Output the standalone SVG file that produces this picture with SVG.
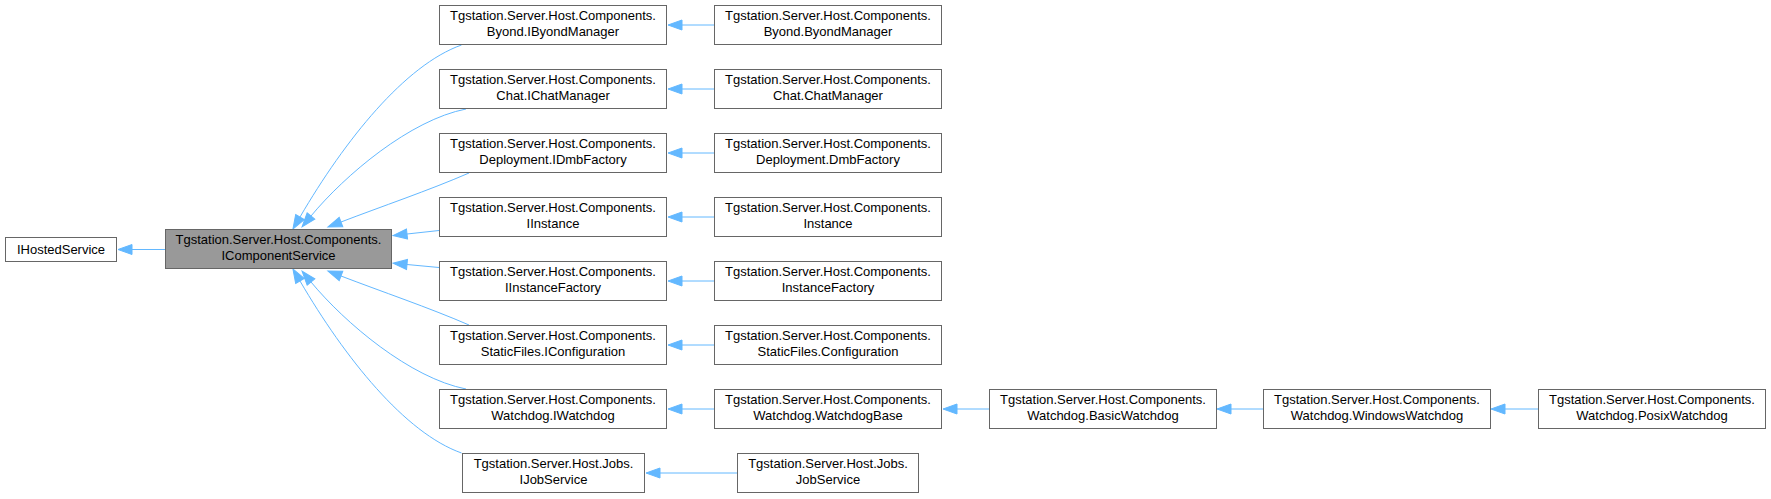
<svg xmlns="http://www.w3.org/2000/svg" width="1771" height="499" viewBox="0 0 1771 499">
<style>
.n rect{fill:#ffffff;stroke:#666666;stroke-width:1}
.hl rect{fill:#999999}
text{font-family:"Liberation Sans",Arial,Helvetica,sans-serif;font-size:13px;text-anchor:middle;fill:#000000}
.e path{fill:none;stroke:#63b8ff;stroke-width:1;marker-end:url(#ah)}
</style>
<defs>
<marker id="ah" markerUnits="userSpaceOnUse" viewBox="0 -6 16 12" refX="0" refY="0" markerWidth="16" markerHeight="12" orient="auto" overflow="visible">
<polygon points="0,-5 14,0 0,5" fill="#63b8ff" stroke="#63b8ff" stroke-width="1"/>
</marker>
</defs>
<rect width="1771" height="499" fill="#ffffff"/>
<g class="e" id="connectors">
<path d="M165,249.5 L132,249.5"/>
<path d="M461.5,45 C405,65 345,140 300,217"/>
<path d="M466,109 C410,120 345,175 311,216"/>
<path d="M469,173 C430,190 380,207 341,222"/>
<path d="M439,230.5 L407,234"/>
<path d="M439,267.5 L407,264.5"/>
<path d="M469,325 C430,308 380,291 341,276"/>
<path d="M466,389 C410,378 345,323 311,282"/>
<path d="M461.5,453 C405,433 345,358 300,281"/>
<path d="M714,25 L682,25"/>
<path d="M714,89 L682,89"/>
<path d="M714,153 L682,153"/>
<path d="M714,217 L682,217"/>
<path d="M714,281 L682,281"/>
<path d="M714,345 L682,345"/>
<path d="M714,409 L682,409"/>
<path d="M737,473 L660,473"/>
<path d="M989,409 L957,409"/>
<path d="M1263,409 L1231,409"/>
<path d="M1538,409 L1505,409"/>
</g>
<g class="n" id="IHostedService"><rect x="5.5" y="237.5" width="111" height="24"/><text x="61" y="253.5">IHostedService</text></g>
<g class="n hl" id="IComponentService"><rect x="165.5" y="229.5" width="226" height="39"/><text x="278.5" y="244">Tgstation.Server.Host.Components.</text><text x="278.5" y="260">IComponentService</text></g>
<g class="n" id="IByondManager"><rect x="439.5" y="5.5" width="227" height="39"/><text x="553" y="20">Tgstation.Server.Host.Components.</text><text x="553" y="36">Byond.IByondManager</text></g>
<g class="n" id="IChatManager"><rect x="439.5" y="69.5" width="227" height="39"/><text x="553" y="84">Tgstation.Server.Host.Components.</text><text x="553" y="100">Chat.IChatManager</text></g>
<g class="n" id="IDmbFactory"><rect x="439.5" y="133.5" width="227" height="39"/><text x="553" y="148">Tgstation.Server.Host.Components.</text><text x="553" y="164">Deployment.IDmbFactory</text></g>
<g class="n" id="IInstance"><rect x="439.5" y="197.5" width="227" height="39"/><text x="553" y="212">Tgstation.Server.Host.Components.</text><text x="553" y="228">IInstance</text></g>
<g class="n" id="IInstanceFactory"><rect x="439.5" y="261.5" width="227" height="39"/><text x="553" y="276">Tgstation.Server.Host.Components.</text><text x="553" y="292">IInstanceFactory</text></g>
<g class="n" id="IConfiguration"><rect x="439.5" y="325.5" width="227" height="39"/><text x="553" y="340">Tgstation.Server.Host.Components.</text><text x="553" y="356">StaticFiles.IConfiguration</text></g>
<g class="n" id="IWatchdog"><rect x="439.5" y="389.5" width="227" height="39"/><text x="553" y="404">Tgstation.Server.Host.Components.</text><text x="553" y="420">Watchdog.IWatchdog</text></g>
<g class="n" id="IJobService"><rect x="462.5" y="453.5" width="182" height="39"/><text x="553.5" y="468">Tgstation.Server.Host.Jobs.</text><text x="553.5" y="484">IJobService</text></g>
<g class="n" id="ByondManager"><rect x="714.5" y="5.5" width="227" height="39"/><text x="828" y="20">Tgstation.Server.Host.Components.</text><text x="828" y="36">Byond.ByondManager</text></g>
<g class="n" id="ChatManager"><rect x="714.5" y="69.5" width="227" height="39"/><text x="828" y="84">Tgstation.Server.Host.Components.</text><text x="828" y="100">Chat.ChatManager</text></g>
<g class="n" id="DmbFactory"><rect x="714.5" y="133.5" width="227" height="39"/><text x="828" y="148">Tgstation.Server.Host.Components.</text><text x="828" y="164">Deployment.DmbFactory</text></g>
<g class="n" id="Instance"><rect x="714.5" y="197.5" width="227" height="39"/><text x="828" y="212">Tgstation.Server.Host.Components.</text><text x="828" y="228">Instance</text></g>
<g class="n" id="InstanceFactory"><rect x="714.5" y="261.5" width="227" height="39"/><text x="828" y="276">Tgstation.Server.Host.Components.</text><text x="828" y="292">InstanceFactory</text></g>
<g class="n" id="Configuration"><rect x="714.5" y="325.5" width="227" height="39"/><text x="828" y="340">Tgstation.Server.Host.Components.</text><text x="828" y="356">StaticFiles.Configuration</text></g>
<g class="n" id="WatchdogBase"><rect x="714.5" y="389.5" width="227" height="39"/><text x="828" y="404">Tgstation.Server.Host.Components.</text><text x="828" y="420">Watchdog.WatchdogBase</text></g>
<g class="n" id="JobService"><rect x="737.5" y="453.5" width="181" height="39"/><text x="828" y="468">Tgstation.Server.Host.Jobs.</text><text x="828" y="484">JobService</text></g>
<g class="n" id="BasicWatchdog"><rect x="989.5" y="389.5" width="227" height="39"/><text x="1103" y="404">Tgstation.Server.Host.Components.</text><text x="1103" y="420">Watchdog.BasicWatchdog</text></g>
<g class="n" id="WindowsWatchdog"><rect x="1263.5" y="389.5" width="227" height="39"/><text x="1377" y="404">Tgstation.Server.Host.Components.</text><text x="1377" y="420">Watchdog.WindowsWatchdog</text></g>
<g class="n" id="PosixWatchdog"><rect x="1538.5" y="389.5" width="227" height="39"/><text x="1652" y="404">Tgstation.Server.Host.Components.</text><text x="1652" y="420">Watchdog.PosixWatchdog</text></g>
</svg>
